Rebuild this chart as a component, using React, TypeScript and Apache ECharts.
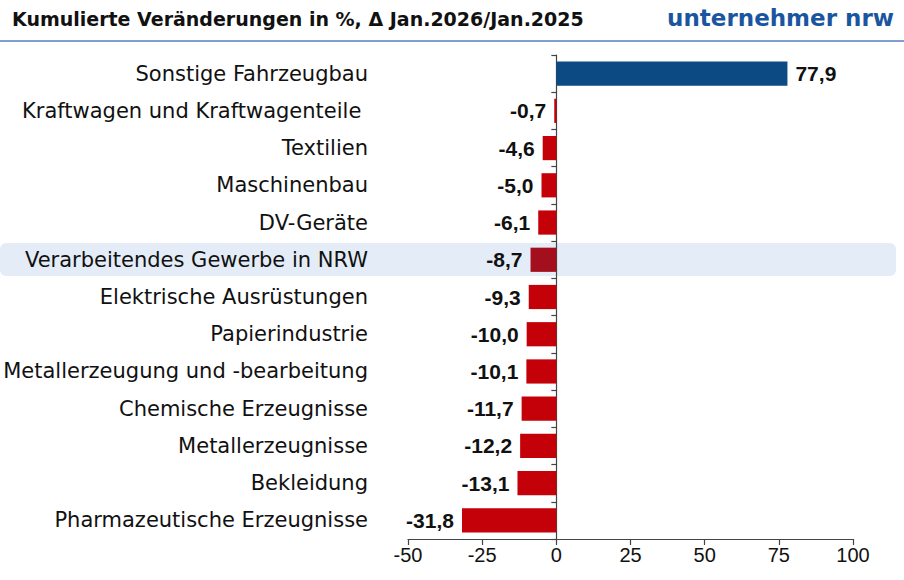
import React, { useEffect, useRef } from "react";
import * as echarts from "echarts";

const categories = [
  "Sonstige Fahrzeugbau",
  "Kraftwagen und Kraftwagenteile ",
  "Textilien",
  "Maschinenbau",
  "DV-Geräte",
  "Verarbeitendes Gewerbe in NRW",
  "Elektrische Ausrüstungen",
  "Papierindustrie",
  "Metallerzeugung und -bearbeitung",
  "Chemische Erzeugnisse",
  "Metallerzeugnisse",
  "Bekleidung",
  "Pharmazeutische Erzeugnisse",
];
const values = [77.9, -0.7, -4.6, -5.0, -6.1, -8.7, -9.3, -10.0, -10.1, -11.7, -12.2, -13.1, -31.8];
const highlightCategory = "Verarbeitendes Gewerbe in NRW";
const xTicks = [-50, -25, 0, 25, 50, 75, 100];

const titleText = "Kumulierte Veränderungen in %, \u0394 Jan.2026/Jan.2025";
const logoText = "unternehmer nrw";

const FONT = "'Liberation Sans', Arial, sans-serif";
const WIDE = "'DejaVu Sans', sans-serif";

export default function App() {
  const ref = useRef<HTMLDivElement>(null);
  useEffect(() => {
    if (!ref.current) return;
    const chart = echarts.init(ref.current, undefined, { renderer: "svg" });
    const data = values.map((v, i) => {
      const hl = categories[i] === highlightCategory;
      return {
        value: v,
        itemStyle: {
          color: v >= 0 ? "#0b4a82" : hl ? "#a30f1d" : "#c40008",
        },
        label: {
          position: v >= 0 ? "right" : "left",
        },
      };
    });
    chart.setOption({
      animation: false,
      textStyle: { fontFamily: FONT },
      graphic: [
        {
          type: "text",
          left: 12,
          top: 9,
          style: {
            text: titleText,
            font: `bold 19px ${WIDE}`,
            fill: "#111",
          },
        },
        {
          type: "text",
          right: 10,
          top: 6,
          style: {
            text: logoText,
            font: `bold 23px ${WIDE}`,
            fill: "#1a56a0",
          },
        },
        {
          type: "rect",
          shape: { x: 0, y: 40, width: 904, height: 2 },
          style: { fill: "#7f9fd3" },
        },
        {
          type: "rect",
          z: -1,
          shape: { x: 0, y: 243, width: 896, height: 33, r: 6 },
          style: { fill: "#e4edf7" },
        },
      ],
      grid: { left: 408, right: 51, top: 55, bottom: 41, outerBoundsMode: "none", containLabel: false },
      xAxis: {
        type: "value",
        min: -50,
        max: 100,
        interval: 25,
        splitLine: { show: false },
        axisLine: { show: true, lineStyle: { color: "#444", width: 1.2 } },
        axisTick: { show: true, length: 6, lineStyle: { color: "#444", width: 1.2 } },
        axisLabel: {
          color: "#111",
          fontSize: 20,
          fontFamily: FONT,
          margin: 6,
          customValues: xTicks,
        },
      },
      yAxis: {
        type: "category",
        data: categories,
        inverse: true,
        axisLine: { show: true, onZero: true, lineStyle: { color: "#444", width: 1.2 } },
        axisTick: { show: true, length: 5, lineStyle: { color: "#444", width: 1.2 } },
        axisLabel: {
          color: "#111",
          fontSize: 21,
          fontFamily: WIDE,
          margin: 40,
          align: "right",
        },
      },
      series: [
        {
          type: "bar",
          data,
          barCategoryGap: "35%",
          label: {
            show: true,
            fontSize: 21,
            fontWeight: "bold",
            color: "#111",
            fontFamily: FONT,
            distance: 8,
            formatter: (p: any) => p.value.toFixed(1).replace(".", ","),
          },
        },
      ],
    });
    return () => chart.dispose();
  }, []);
  return (
    <div
      ref={ref}
      style={{ position: "fixed", left: 0, top: 0, width: 904, height: 580, background: "#fff" }}
    />
  );
}
